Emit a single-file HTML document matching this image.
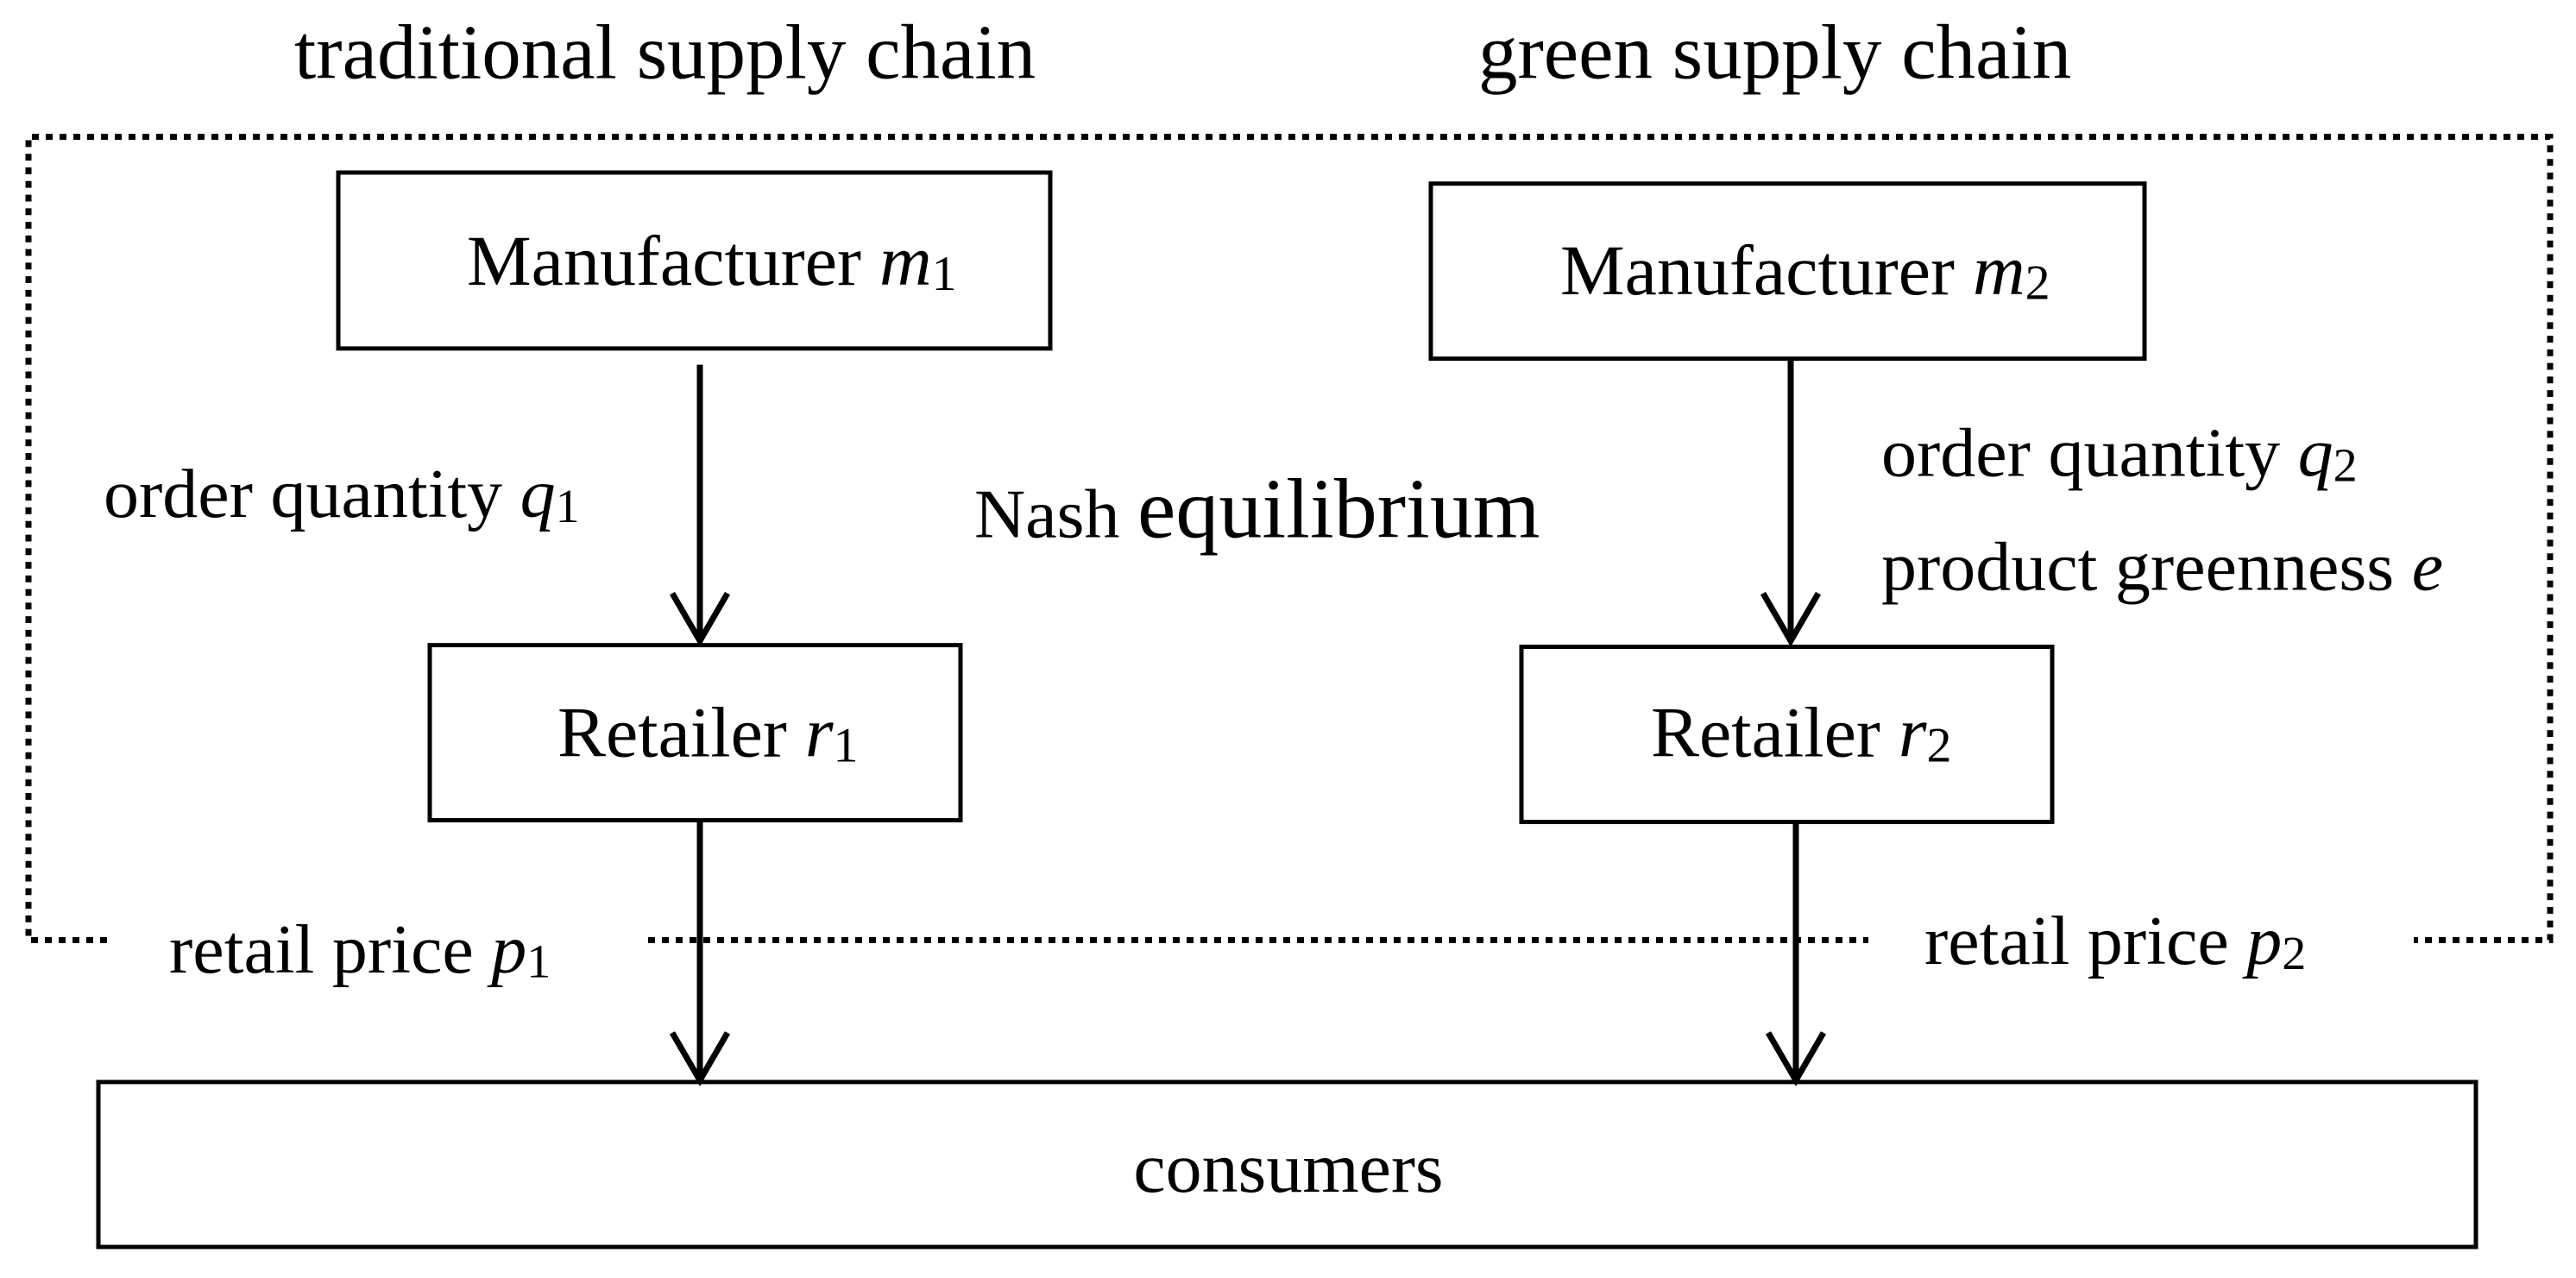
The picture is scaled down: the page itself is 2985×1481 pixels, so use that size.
<!DOCTYPE html>
<html><head><meta charset="utf-8"><style>
html,body{margin:0;padding:0;background:#fff;}
svg{display:block;}
text{font-family:"Liberation Serif",serif;fill:#000;}
</style></head><body>
<svg width="2985" height="1481" viewBox="0 0 2985 1481" xmlns="http://www.w3.org/2000/svg">
<g transform="scale(1,0.985)">
<g fill="none" stroke="#000" stroke-width="7" stroke-dasharray="8 8">
<path d="M124 1106 H33 V161 H2955 V1106 H2797"/>
<path d="M751 1106 H2165"/>
</g>
<g fill="#fff" stroke="#000" stroke-width="5">
<rect x="392" y="203" width="825" height="207"/>
<rect x="498" y="759" width="615" height="206"/>
<rect x="1658" y="216" width="827" height="206"/>
<rect x="1763" y="761" width="615" height="206"/>
<rect x="114" y="1273" width="2755" height="194"/>
</g>
<g stroke="#000" stroke-width="7" fill="none">
<path d="M811 429 V754 M779 698 L811 754 L843 698"/>
<path d="M811 965 V1271 M779 1215 L811 1271 L843 1215"/>
<path d="M2075 422 V754 M2043 698 L2075 754 L2107 698"/>
<path d="M2081 967 V1271 M2049 1215 L2081 1271 L2113 1215"/>
</g>
<text x="341" y="92" font-size="91">traditional supply chain</text>
<text x="1713" y="92" font-size="91">green supply chain</text>
<text x="541" y="335" font-size="84">Manufacturer <tspan font-style="italic">m</tspan><tspan font-size="58" dy="6">1</tspan></text>
<text x="1808" y="346" font-size="84">Manufacturer <tspan font-style="italic">m</tspan><tspan font-size="58" dy="6">2</tspan></text>
<text x="646" y="890" font-size="84">Retailer <tspan font-style="italic">r</tspan><tspan font-size="58" dy="6">1</tspan></text>
<text x="1913" y="890" font-size="84">Retailer <tspan font-style="italic">r</tspan><tspan font-size="58" dy="6">2</tspan></text>
<text x="120" y="608" font-size="82">order quantity <tspan font-style="italic">q</tspan><tspan font-size="56" dy="6">1</tspan></text>
<text x="2180" y="560" font-size="82">order quantity <tspan font-style="italic">q</tspan><tspan font-size="56" dy="6">2</tspan></text>
<text x="2180" y="694" font-size="82">product greenness <tspan font-style="italic">e</tspan></text>
<text x="1129" y="632" font-size="82">Nash <tspan font-size="100">equilibrium</tspan></text>
<text x="196" y="1144" font-size="82">retail price <tspan font-style="italic">p</tspan><tspan font-size="56" dy="6">1</tspan></text>
<text x="2230" y="1134" font-size="82">retail price <tspan font-style="italic">p</tspan><tspan font-size="56" dy="6">2</tspan></text>
<text x="1493" y="1402" font-size="84" text-anchor="middle">consumers</text>
</g>
</svg>
</body></html>
